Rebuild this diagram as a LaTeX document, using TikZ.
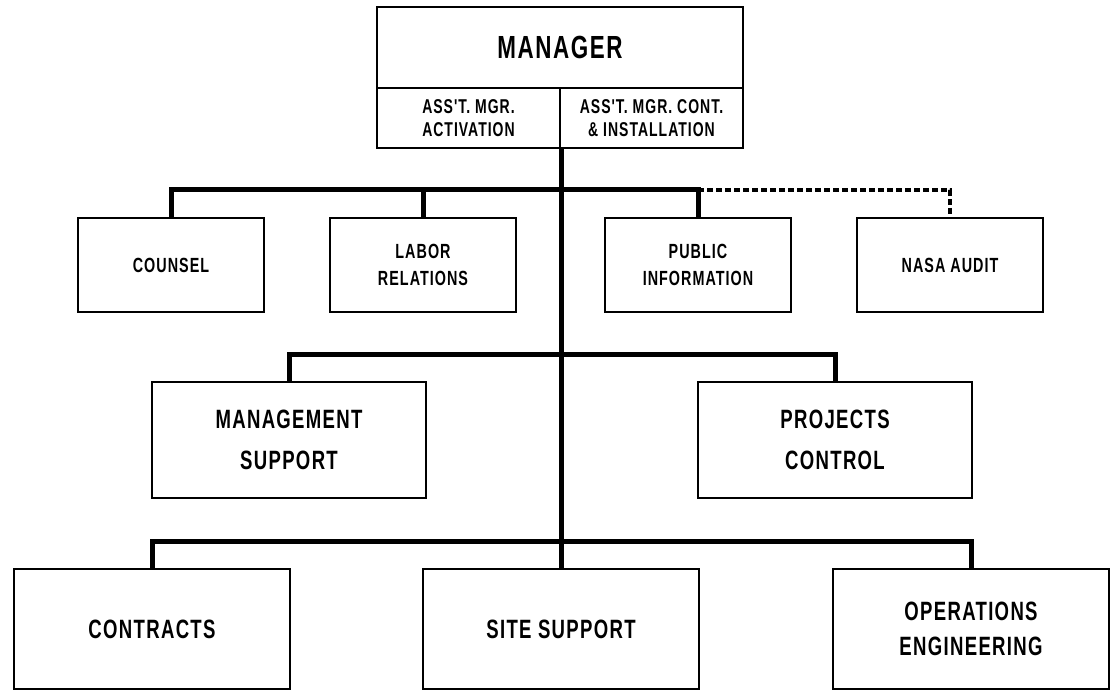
\documentclass[tikz,border=0pt]{standalone}
\usepackage{fontspec}
\newfontfamily\chartfont[FakeStretch=0.7,LetterSpace=5]{Liberation Sans}
\begin{document}
\begin{tikzpicture}[x=1pt,y=-1pt,
  box/.style={draw,line width=2.6pt,rectangle,inner sep=0pt,align=center},
  rowA/.style={box,minimum width=186pt,minimum height=94pt,font=\chartfont\bfseries\fontsize{20.5}{27}\selectfont},
  rowB/.style={box,minimum width=274pt,minimum height=116pt,font=\chartfont\bfseries\fontsize{26.5}{41}\selectfont},
  rowC/.style={box,minimum width=276pt,minimum height=120pt,font=\chartfont\bfseries\fontsize{26.5}{35}\selectfont},
  subcell/.style={box,minimum width=183pt,minimum height=60pt,font=\chartfont\bfseries\fontsize{20}{23}\selectfont},
  bus/.style={line width=5pt,line join=miter},
  dotbus/.style={line width=4.5pt,line join=miter,dash pattern=on 6pt off 3pt}]
\useasboundingbox[fill=white] (0,0) rectangle (1114,692);
% manager block
\node[box,minimum width=366pt,minimum height=81pt,font=\chartfont\bfseries\fontsize{32}{36}\selectfont] (mgr) at (560,47.5) {MANAGER};
\node[subcell] (asa) at (468.5,118) {ASS'T. MGR.\\ACTIVATION};
\node[subcell] (asb) at (651.5,118) {ASS'T. MGR. CONT.\\\& INSTALLATION};
% junctions
\coordinate (j0) at (561,148);
\coordinate (j1) at (561,190);
\coordinate (j2) at (561,355);
\coordinate (j3) at (561,541);
% row 1
\node[rowA] (coun) at (171,265) {COUNSEL};
\node[rowA] (lab) at (423,265) {LABOR\\RELATIONS};
\node[rowA] (pub) at (698,265) {PUBLIC\\INFORMATION};
\node[rowA] (nasa) at (950,265) {NASA AUDIT};
% row 2
\node[rowB] (ms) at (289,440) {MANAGEMENT\\SUPPORT};
\node[rowB] (pc) at (835,440) {PROJECTS\\CONTROL};
% row 3
\node[rowC] (con) at (152,629) {CONTRACTS};
\node[rowC] (site) at (561,629) {SITE SUPPORT};
\node[rowC] (ops) at (971,629) {OPERATIONS\\ENGINEERING};
% trunk
\draw[bus] (j0) -- (j3);
% row 1 bus
\draw[bus] (coun.north) |- (j1) -| (pub.north);
\draw[bus] (lab.north) -- (lab.north |- j1);
\draw[dotbus] (pub.north |- j1) -| (nasa.north);
% row 2 bus
\draw[bus] (ms.north) |- (j2) -| (pc.north);
% row 3 bus
\draw[bus] (con.north) |- (j3) -| (ops.north);
\draw[bus] (j3) -- (site.north);
\end{tikzpicture}
\end{document}
